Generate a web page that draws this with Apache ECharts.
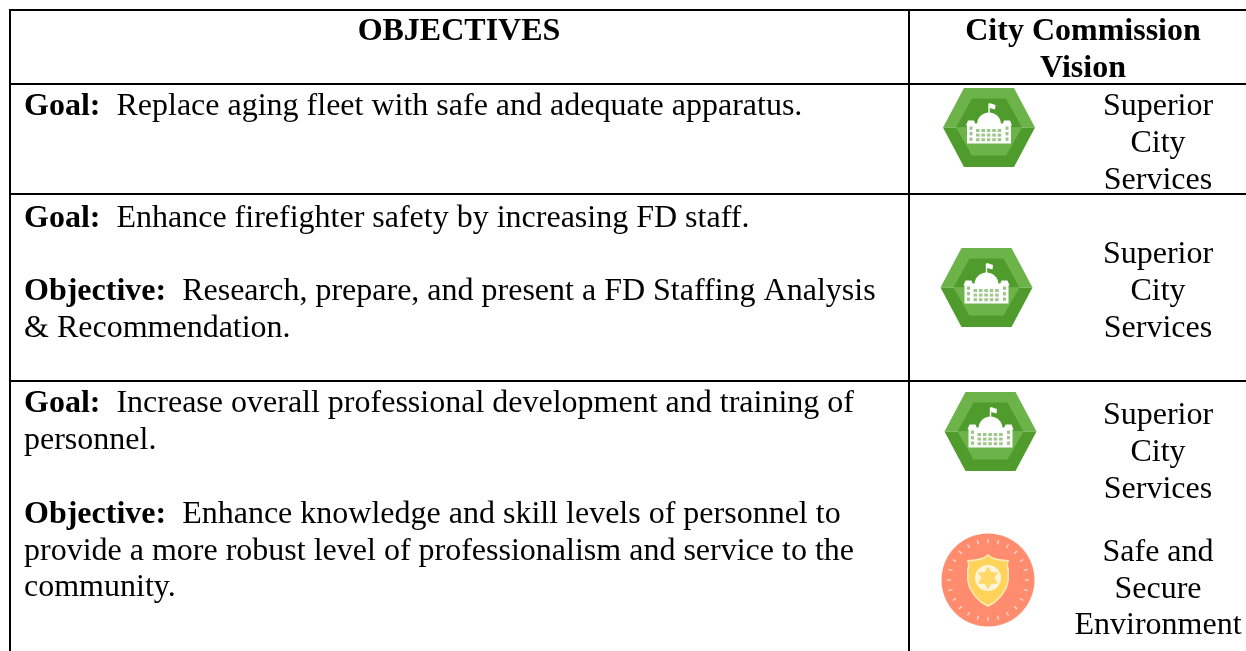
<!DOCTYPE html>
<html><head><meta charset="utf-8">
<style>html,body{margin:0;padding:0;background:#fff}#c{width:1246px;height:651px}</style>
<script src="https://cdn.jsdelivr.net/npm/echarts@6/dist/echarts.min.js"></script>
</head><body><div id="c"></div>
<script>
const headers = [["OBJECTIVES"], ["City Commission", "Vision"]];
const leftLines = [
  ["{b|Goal:}  Replace aging fleet with safe and adequate apparatus.", 107],
  ["{b|Goal:}  Enhance firefighter safety by increasing FD staff.", 219],
  ["{b|Objective:}  Research, prepare, and present a FD Staffing Analysis", 292],
  ["& Recommendation.", 329],
  ["{b|Goal:}  Increase overall professional development and training of", 404],
  ["personnel.", 441],
  ["{b|Objective:}  Enhance knowledge and skill levels of personnel to", 515],
  ["provide a more robust level of professionalism and service to the", 552],
  ["community.", 588]
];
const visionLabels = [
  [["Superior", 107], ["City", 144], ["Services", 181]],
  [["Superior", 255], ["City", 292], ["Services", 329]],
  [["Superior", 416], ["City", 453], ["Services", 490]],
  [["Safe and", 553], ["Secure", 590], ["Environment", 626]]
];
const hexIcons = [[989, 127.5], [986.5, 287.5], [990.5, 431.5]];
const badgeIcons = [[988, 580]];
const rowLines = [10, 84, 194, 381];
const colLines = [10, 909];

const FONT = '"Liberation Serif","Times New Roman",serif';
const SIZE = 32;
const els = [];
const txt = (text, x, y, align, bold) => ({
  type: 'text', x, y,
  style: {
    text, align: align, verticalAlign: 'middle', fill: '#000',
    font: (bold ? 'bold ' : '') + SIZE + 'px ' + FONT,
    rich: { b: { font: 'bold ' + SIZE + 'px ' + FONT, fill: '#000' } }
  }
});
const line = (x1, y1, x2, y2) => ({
  type: 'line', shape: { x1, y1, x2, y2 }, style: { stroke: '#000', lineWidth: 2 }
});
rowLines.forEach(y => els.push(line(9, y, 1246, y)));
colLines.forEach(x => els.push(line(x, 9, x, 651)));
els.push(txt(headers[0][0], 459, 32, 'center', true));
els.push(txt(headers[1][0], 1083, 32, 'center', true));
els.push(txt(headers[1][1], 1083, 69, 'center', true));
leftLines.forEach(l => els.push(txt(l[0], 24, l[1], 'left', false)));
visionLabels.forEach(g => g.forEach(l => els.push(txt(l[0], 1158, l[1], 'center', false))));

const poly = (points, fill) => ({ type: 'polygon', shape: { points }, style: { fill } });
const rect = (x, y, width, height, fill) => ({ type: 'rect', shape: { x, y, width, height }, style: { fill } });

function hexIcon(c) {
  const ch = [
    poly([[-46, 0], [-25, -39.5], [25, -39.5], [46, 0]], '#6cb34a'),
    poly([[-46, 0], [-25, 39.5], [25, 39.5], [46, 0]], '#4f9c2d'),
    poly([[-33, 0], [-17, -29], [17, -29], [33, 0]], '#4f9c2d'),
    poly([[-33, 0], [-17, 28], [17, 28], [33, 0]], '#6cb34a'),
    { type: 'circle', shape: { cx: 0, cy: -3, r: 12 }, style: { fill: '#fff' } },
    rect(-0.7, -24, 1.4, 12, '#fff'),
    poly([[0.5, -24.5], [6.5, -22.5], [6, -18], [0.5, -19.5]], '#fff'),
    rect(-22, -4, 44, 20, '#fff'),
    poly([[-23, -2], [-21, -7], [-15, -7], [-13, -2]], '#fff'),
    poly([[23, -2], [21, -7], [15, -7], [13, -2]], '#fff'),
  ];
  for (let r = 0; r < 3; r++) for (let k = 0; k < 5; k++) {
    ch.push(rect(-13 + k * 5.4, 1.5 + r * 4.6, 3.6, 3.0, '#9cc889'));
  }
  [-19.5, 16.5].forEach(x => { for (let r = 0; r < 3; r++) ch.push(rect(x, -1 + r * 5.5, 3, 3.4, '#9cc889')); });
  return { type: 'group', x: c[0], y: c[1], children: ch };
}

function badgeIcon(c) {
  const ch = [{ type: 'circle', shape: { cx: 0, cy: 0, r: 46.5 }, style: { fill: '#ff8c6e' } }];
  for (let i = 0; i < 24; i++) {
    const a = i / 24 * Math.PI * 2, ri = 37, ro = 41;
    ch.push({ type: 'line', shape: { x1: ri * Math.cos(a), y1: ri * Math.sin(a), x2: ro * Math.cos(a), y2: ro * Math.sin(a) },
      style: { stroke: '#ffd9c8', lineWidth: 1.4 } });
  }
  const outline = [[0,-26],[4,-23],[9,-21.5],[15,-20.5],[21,-20],[20,-15],[21,-10],[21,0],[19,8],[14,16],[7,23],[0,27],[-7,23],[-14,16],[-19,8],[-21,0],[-21,-10],[-20,-15],[-21,-20],[-15,-20.5],[-9,-21.5],[-4,-23]];
  const scaled = s => outline.map(p => [p[0] * s, p[1] * s]);
  ch.push(poly(scaled(1), '#ffe9b0'));
  ch.push(poly(scaled(0.92), '#ffd25a'));
  ch.push({ type: 'circle', shape: { cx: 0, cy: -2, r: 13 }, style: { fill: '#fff3d8' } });
  const star = [];
  for (let i = 0; i < 12; i++) {
    const a = -Math.PI / 2 + i * Math.PI / 6, r = i % 2 ? 6.5 : 11.5;
    star.push([r * Math.cos(a), -2 + r * Math.sin(a)]);
  }
  ch.push(poly(star, '#ffd966'));
  return { type: 'group', x: c[0], y: c[1], children: ch };
}
hexIcons.forEach(c => els.push(hexIcon(c)));
badgeIcons.forEach(c => els.push(badgeIcon(c)));

const chart = echarts.init(document.getElementById('c'), null, { renderer: 'canvas' });
chart.setOption({ backgroundColor: '#fff', animation: false, graphic: { elements: els } });
</script></body></html>
